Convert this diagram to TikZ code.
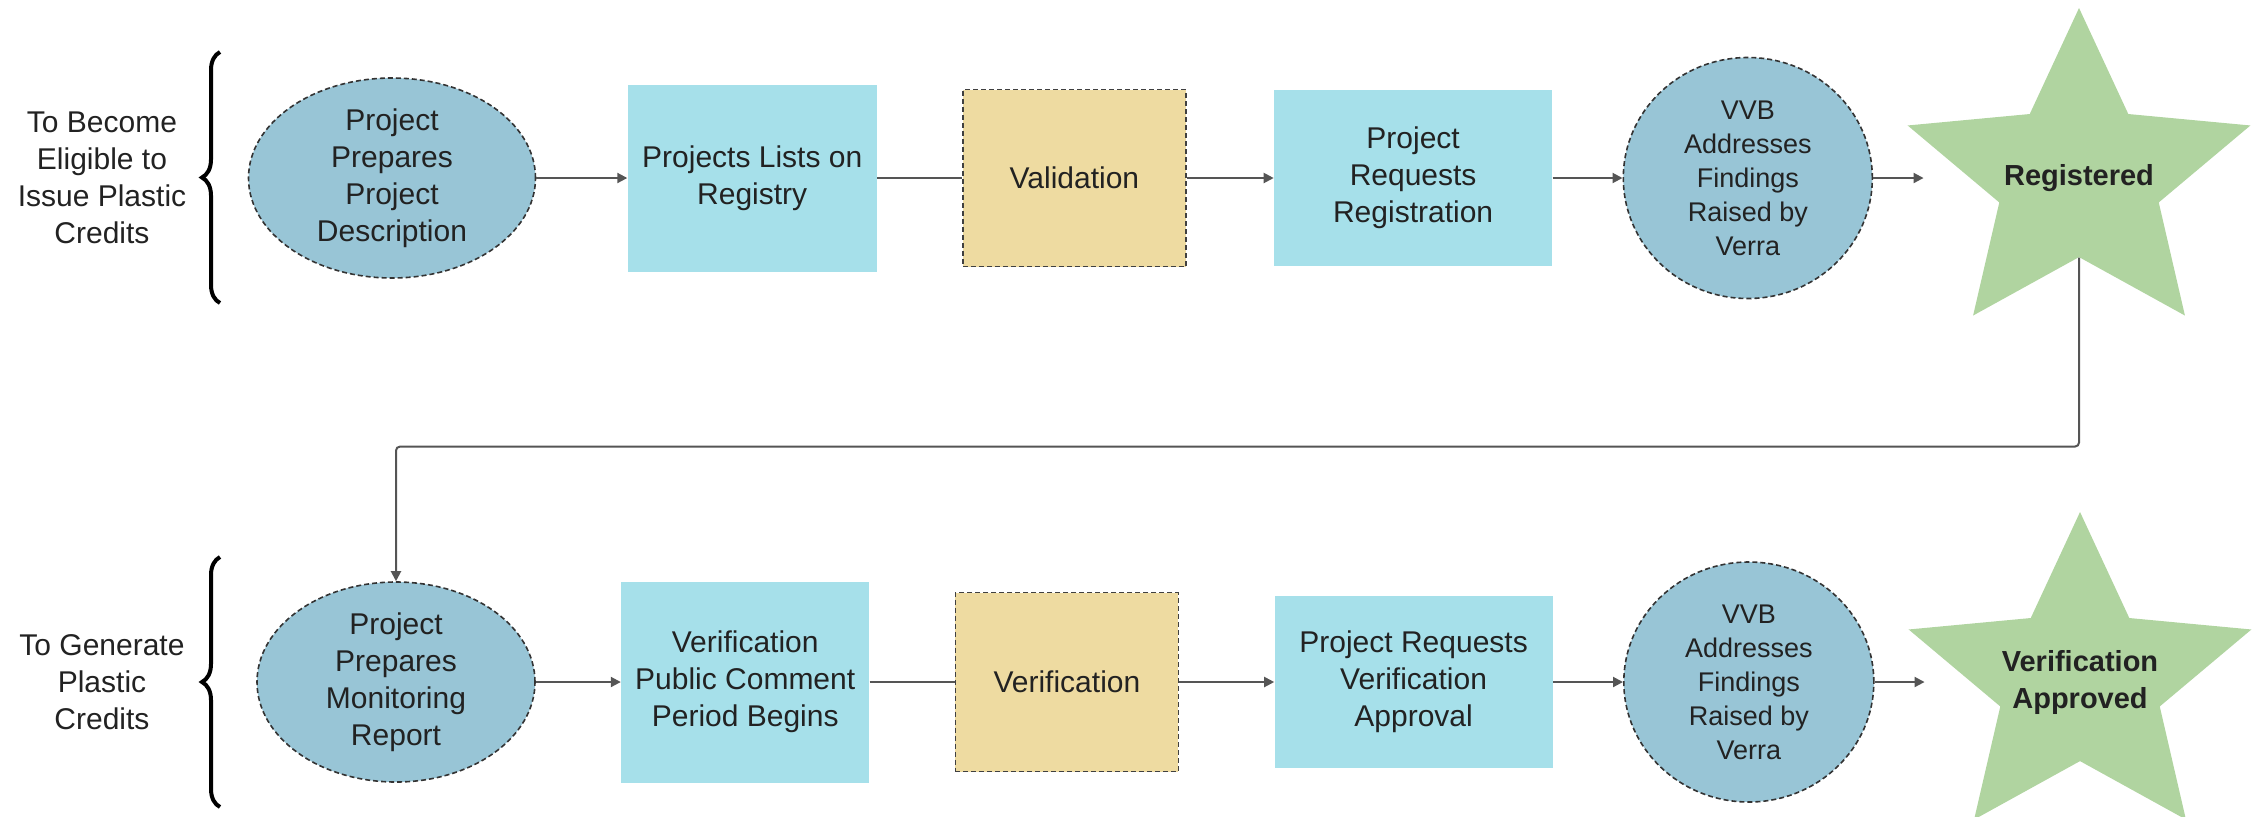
\documentclass[tikz,border=0pt]{standalone}
\usepackage{fontspec}
\setmainfont{Liberation Sans}
\usetikzlibrary{positioning,shapes.geometric,arrows.meta,decorations.pathreplacing}
\definecolor{stepblue}{HTML}{98C5D6}
\definecolor{listcyan}{HTML}{A6E0EA}
\definecolor{checktan}{HTML}{EEDBA1}
\definecolor{goalgreen}{HTML}{B0D4A0}
\definecolor{linegrey}{HTML}{555555}
\definecolor{inkgrey}{HTML}{222222}
\pgfmathsetmacro{\rowone}{178}
\pgfmathsetmacro{\rowtwo}{682}
\pgfmathsetmacro{\starsize}{170}

\begin{document}
\begin{tikzpicture}[
    x=0.5pt, y=-0.5pt,
    font=\fontsize{15}{18.5}\selectfont, text=inkgrey,
    process/.style={ellipse, draw=black!80, line width=0.8pt,
      dash pattern=on 2.5pt off 1.5pt, fill=stepblue, inner sep=0pt, align=center},
    listbox/.style={rectangle, fill=listcyan, inner sep=0pt, align=center},
    checkbox/.style={rectangle, draw=black!75, line width=0.8pt,
      dash pattern=on 2.5pt off 1.5pt, fill=checktan, inner sep=0pt, align=center},
    goal/.style={star, star points=5, star point ratio=2.15, fill=goalgreen,
      inner sep=0pt, minimum size=\starsize pt, xscale=1.06},
    goaltext/.style={font=\bfseries\fontsize{14.5}{18.5}\selectfont, align=center},
    small/.style={font=\fontsize{13.5}{17}\selectfont},
    flow/.style={draw=linegrey, line width=1pt, -{Triangle[length=5pt,width=5pt]}},
    link/.style={draw=linegrey, line width=1pt},
    curly/.style={decorate, decoration={brace, amplitude=9pt}, line width=2pt},
  ]
    \useasboundingbox (0,0) rectangle (2262,816);
    % define nodes
    % registration row
    \node[process, minimum width=143.5pt, minimum height=100pt] (proj_desc) at (392,\rowone)
      {Project\\Prepares\\Project\\Description};
    \node[listbox, minimum width=124.5pt, minimum height=93.5pt, right=45.5pt of proj_desc] (reg_list)
      {Projects Lists on\\Registry};
    \node[checkbox, minimum width=111.5pt, minimum height=88.5pt, right=42.5pt of reg_list] (valid)
      {Validation};
    \node[listbox, minimum width=139pt, minimum height=88pt, right=43.5pt of valid] (reg_req)
      {Project\\Requests\\Registration};
    \node[process, small, minimum width=124.5pt, minimum height=120.5pt, right=35pt of reg_req] (vvb_reg)
      {VVB\\Addresses\\Findings\\Raised by\\Verra};
    \node[goal] (registered) at (2079,\rowone) {};
    % verification row
    \node[process, minimum width=139pt, minimum height=100pt] (mon_report) at (396,\rowtwo)
      {Project\\Prepares\\Monitoring\\Report};
    \node[listbox, minimum width=124pt, minimum height=100.5pt, right=42.5pt of mon_report] (ver_comment)
      {Verification\\Public Comment\\Period Begins};
    \node[checkbox, minimum width=111.5pt, minimum height=89.5pt, right=42.5pt of ver_comment] (verif)
      {Verification};
    \node[listbox, minimum width=139pt, minimum height=86pt, right=47.5pt of verif] (ver_req)
      {Project Requests\\Verification\\Approval};
    \node[process, small, minimum width=125pt, minimum height=120pt, right=35pt of ver_req] (vvb_ver)
      {VVB\\Addresses\\Findings\\Raised by\\Verra};
    \node[goal] (approved) at (2080,\rowtwo) {};
    % draw connectors
    \draw[flow] (proj_desc) -- (reg_list);
    \draw[link] (reg_list) -- (valid);
    \draw[flow] (valid) -- (reg_req);
    \draw[flow] (reg_req) -- (vvb_reg);
    \draw[flow, shorten >=23pt] (vvb_reg) -- (registered);
    \draw[flow, rounded corners=2pt] (registered.south) -- ++(0,189) -| (mon_report.north);
    \draw[flow] (mon_report) -- (ver_comment);
    \draw[link] (ver_comment) -- (verif);
    \draw[flow] (verif) -- (ver_req);
    \draw[flow] (ver_req) -- (vvb_ver);
    \draw[flow, shorten >=23pt] (vvb_ver) -- (approved);
    % braces
    \draw[curly] (220,303) -- (220,52);
    \draw[curly] (220,807) -- (220,557);
    % add labels
    \node[align=center] (eligible_label) at (102,\rowone)
      {To Become\\Eligible to\\Issue Plastic\\Credits};
    \node[align=center] (generate_label) at (102,\rowtwo)
      {To Generate\\Plastic\\Credits};
    \node[goaltext] (registered_text) at (registered) {Registered};
    \node[goaltext] (approved_text) at (approved) {Verification\\Approved};
\end{tikzpicture}
\end{document}
